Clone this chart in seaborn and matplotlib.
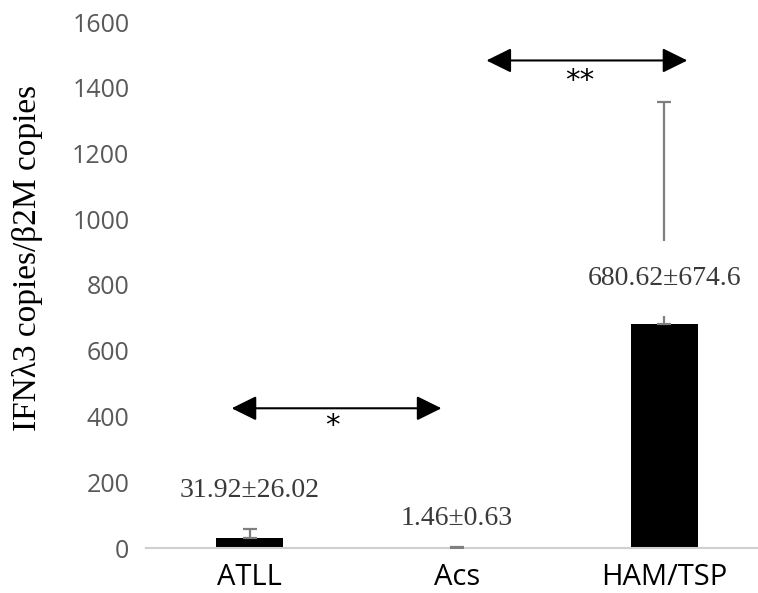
import matplotlib
matplotlib.use("Agg")
import matplotlib.pyplot as plt
import seaborn as sns
import pandas as pd

groups = ["ATLL", "Acs", "HAM/TSP"]
means = [31.92, 1.46, 680.62]
sds = [26.02, 0.63, 674.6]
value_labels = ["31.92\u00b126.02", "1.46\u00b10.63", "680.62\u00b1674.6"]
y_ticks = [0, 200, 400, 600, 800, 1000, 1200, 1400, 1600]

sns.set_theme(style="white")

df = pd.DataFrame({"group": groups, "mean": means})

fig = plt.figure(figsize=(7.58, 5.93), dpi=100)
ax = fig.add_axes([146 / 758, 45 / 593, 622 / 758, 526 / 593])

sns.barplot(data=df, x="group", y="mean", color="black", width=0.32,
            saturation=1, ax=ax, errorbar=None, zorder=2)
for p in ax.patches:
    p.set_edgecolor("none")

# upward-only error bars
xpos = list(range(len(groups)))
ax.errorbar(xpos, means, yerr=[[0] * len(sds), sds], fmt="none",
            ecolor="#7f7f7f", elinewidth=1.6, capsize=5, capthick=1.6, zorder=3)

ax.set_xlim(-0.5, 2.5)
ax.set_ylim(0, 1600)
ax.set_yticks(y_ticks)
ax.set_yticklabels([str(t) for t in y_ticks], fontfamily="Open Sans",
                   fontsize=18, color="#595959")
ax.set_xticks(xpos)
ax.set_xticklabels(groups, fontfamily="Open Sans", fontsize=21, color="black")
ax.tick_params(axis="y", length=0, pad=12)
ax.tick_params(axis="x", length=0, pad=11)
ax.set_xlabel("")
ax.set_ylabel("")
fig.text(28 / 758, 1 - 258 / 593, "IFN\u03bb3 copies/\u03b22M copies",
         rotation=90, ha="center", va="center", fontfamily="Liberation Serif",
         fontsize=24, color="black")

for side in ["top", "right", "left"]:
    ax.spines[side].set_visible(False)
ax.spines["bottom"].set_color("#d0d0d0")
ax.spines["bottom"].set_linewidth(1.5)

# mean ± SD labels; the tall bar's label sits on a white box over its error bar
label_y = [176, 91, 820]
for i, (x, y, txt) in enumerate(zip(xpos, label_y, value_labels)):
    kw = {}
    if i == 2:
        kw["bbox"] = dict(boxstyle="square,pad=0.9", fc="white", ec="none")
    ax.text(x, y, txt, ha="center", va="center", fontfamily="Liberation Serif",
            fontsize=20, color="#3a3a3a", zorder=5, **kw)

# significance brackets
arrow_kw = dict(arrowstyle="<|-|>,head_length=0.85,head_width=0.42",
                color="black", lw=1.5, shrinkA=0, shrinkB=0, mutation_scale=18)
ax.annotate("", xy=(-0.087, 425), xytext=(0.925, 425), arrowprops=arrow_kw, zorder=6)
ax.annotate("", xy=(1.142, 1483), xytext=(2.111, 1483), arrowprops=arrow_kw, zorder=6)
ax.text(0.40, 372, "*", ha="center", va="center", fontsize=21,
        fontfamily="DejaVu Sans", color="black")
ax.text(1.59, 1420, "**", ha="center", va="center", fontsize=21,
        fontfamily="DejaVu Sans", color="black")

fig.savefig("out.png", dpi=100)
